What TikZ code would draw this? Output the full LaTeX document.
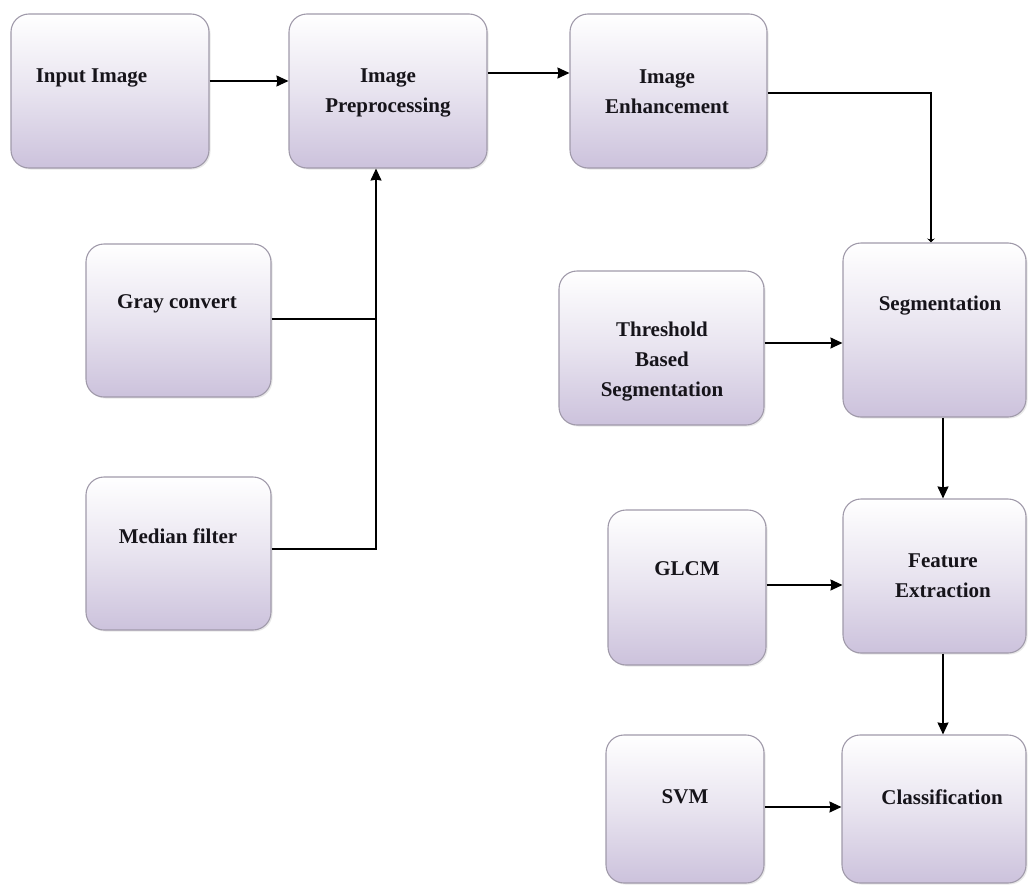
\documentclass[tikz,border=0pt]{standalone}
\usepackage{fontspec}
\setmainfont{Liberation Serif}
\usetikzlibrary{arrows.meta,shadows}
\definecolor{boxbot}{RGB}{204,194,220}
\definecolor{boxtop}{RGB}{255,255,255}
\definecolor{boxedge}{RGB}{160,154,170}
\definecolor{txt}{RGB}{22,20,26}
\tikzset{
  box/.style={draw=boxedge, line width=1.1pt, rounded corners=18pt,
    top color=boxtop, bottom color=boxbot, middle color={boxtop!55!boxbot},
    drop shadow={opacity=0.18, shadow xshift=1.5pt, shadow yshift=-1.5pt},
    inner sep=0pt},
  lbl/.style={font=\fontsize{21}{30}\selectfont\bfseries, text=txt, align=center, inner sep=0pt},
  conn/.style={line width=1.5pt, black},
  arr/.style={conn, -{Stealth[length=12pt,width=11pt,inset=1pt]}},
  tiparr/.style={conn, -{Stealth[length=4pt,width=8pt]}}
}
\newcommand{\boxat}[5]{%
  \node[box, minimum width={#4-#2}, minimum height={#5-#3}] (#1) at ({(#2+#4)/2},{(#3+#5)/2}) {};}
\begin{document}
\begin{tikzpicture}[x=1pt,y=-1pt]
\useasboundingbox (0,0) rectangle (1028,886);
% boxes
\boxat{inp}{11}{14}{209}{168}
\boxat{pre}{289}{14}{487}{168}
\boxat{enh}{570}{14}{767}{168}
\boxat{gray}{86}{244}{271}{397}
\boxat{med}{86}{477}{271}{630}
\boxat{thr}{559}{271}{764}{425}
\boxat{seg}{843}{243}{1026}{417}
\boxat{glcm}{608}{510}{766}{665}
\boxat{feat}{843}{499}{1026}{653}
\boxat{svm}{606}{735}{764}{883}
\boxat{cls}{842}{735}{1026}{883}
% labels
\node[lbl] (tinp) at (91.5,78) {Input Image};
\node[lbl] (tpre) at (388,93) {Image\\Preprocessing};
\node[lbl] (tenh) at (667,92) {Image\\Enhancement};
\node[lbl] (tgray) at (177,304) {Gray convert};
\node[lbl] (tmed) at (178,536) {Median filter};
\node[lbl] (tthr) at (662,362) {Threshold\\Based\\Segmentation};
\node[lbl] (tseg) at (940,306) {Segmentation};
\node[lbl] (tglcm) at (687,569) {GLCM};
\node[lbl] (tfeat) at (943,576) {Feature\\Extraction};
\node[lbl] (tsvm) at (685,797) {SVM};
\node[lbl] (tcls) at (942,797) {Classification};
% helper coordinates
\coordinate (preIn) at ([xshift=-12pt]pre.south);
\coordinate (grayOut) at ([yshift=1.5pt]gray.east);
\coordinate (medOut) at ([yshift=4.5pt]med.east);
\coordinate (thrOut) at ([yshift=5pt]thr.east);
\coordinate (glcmOut) at ([yshift=2.5pt]glcm.east);
\coordinate (segOut) at ([xshift=8.5pt]seg.south);
\coordinate (featOut) at ([xshift=8.5pt]feat.south);
% connectors
\draw[arr] ([yshift=10pt]inp.east) -- ([yshift=10pt]pre.west);
\draw[arr] ([yshift=18pt]pre.east) -- ([yshift=18pt]enh.west);
\draw[tiparr] ([yshift=-2pt]enh.east) -| ([xshift=-3.5pt]seg.north);
\draw[arr] (medOut) -- (preIn |- medOut) -- (preIn);
\draw[conn] (grayOut) -- (preIn |- grayOut);
\draw[arr] (thrOut) -- (seg.west |- thrOut);
\draw[arr] (segOut) -- (segOut |- feat.north);
\draw[arr] (glcmOut) -- (feat.west |- glcmOut);
\draw[arr] (featOut) -- (featOut |- cls.north);
\draw[arr] ([yshift=2pt]svm.east) -- ([yshift=2pt]cls.west);
\end{tikzpicture}
\end{document}
